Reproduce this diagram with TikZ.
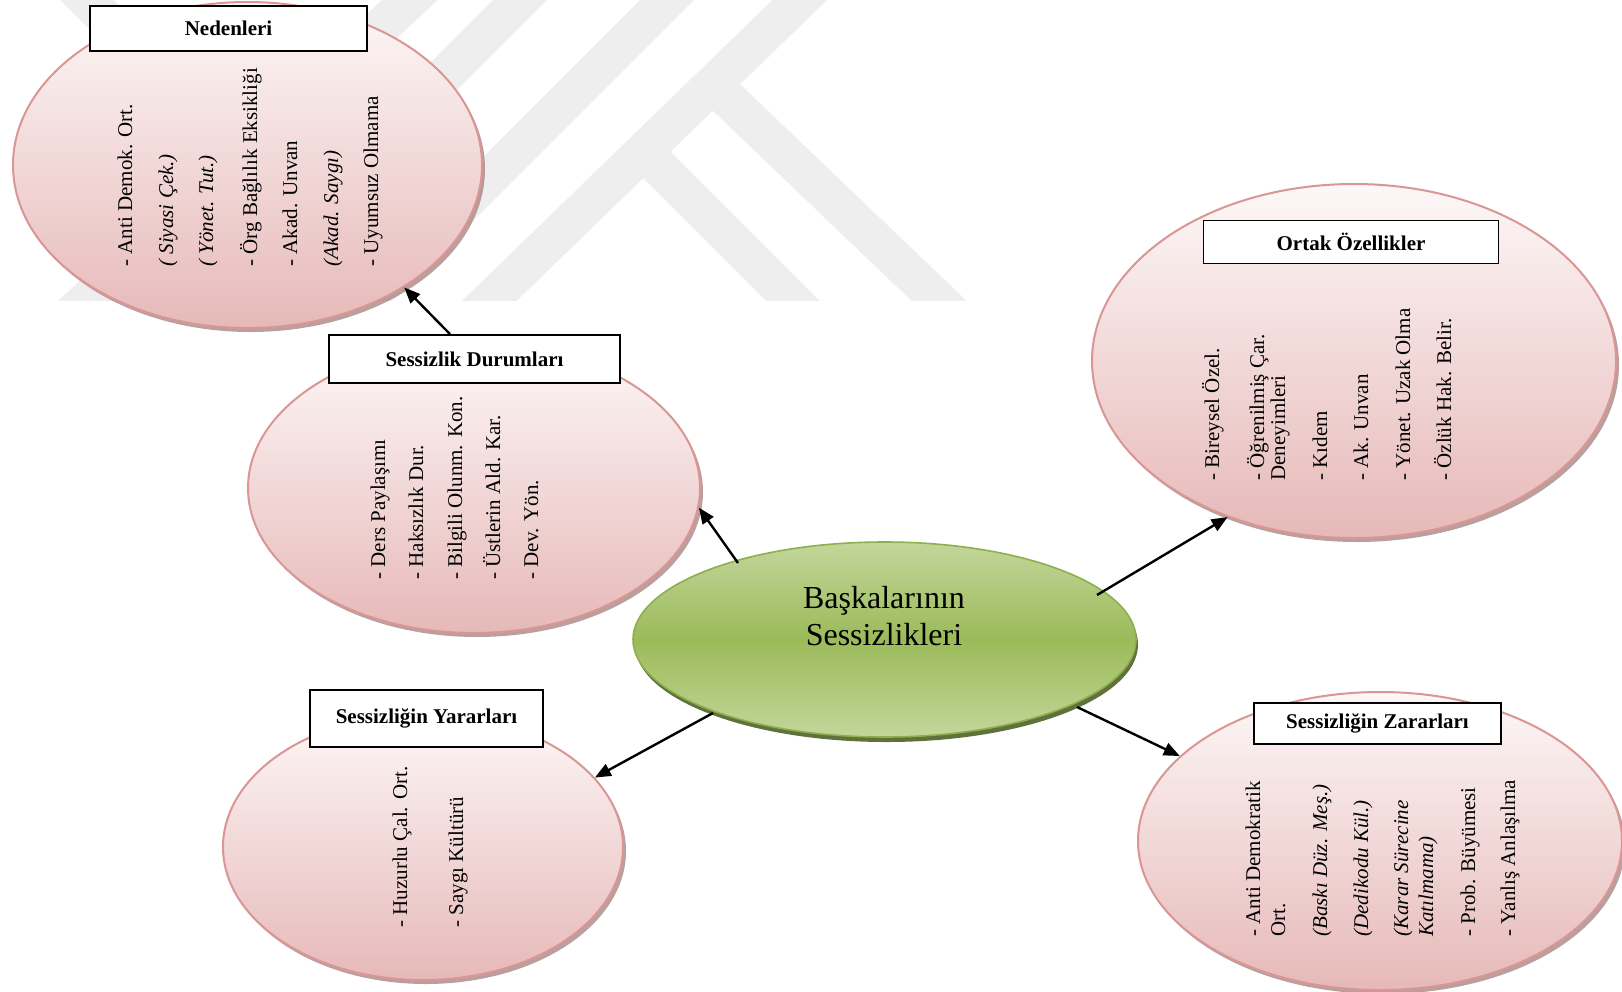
\documentclass[tikz,border=0pt]{standalone}
\usepackage{fontspec}
\setmainfont{Liberation Serif}
\usetikzlibrary{arrows.meta,shapes.geometric,shadows,calc}
\definecolor{pinkborder}{HTML}{D99694}
\definecolor{pinktop}{HTML}{FDF7F7}
\definecolor{pinkbot}{HTML}{E6B9B8}
\definecolor{pinkshadow}{HTML}{A98787}
\definecolor{greenlight}{HTML}{C3D69B}
\definecolor{greenmid}{HTML}{9BBB59}
\definecolor{greenborder}{HTML}{8DB04C}
\definecolor{greenshadow}{HTML}{4F6228}
\definecolor{wm}{HTML}{EEEEEE}
\tikzset{
  col/.style={rotate=90, anchor=west, inner sep=0pt, text height=7.5pt, text depth=2.5pt, font=\fontsize{10.5}{12}\selectfont},
  icol/.style={col, font=\fontsize{10.5}{12}\selectfont\itshape},
  titlebox/.style={draw=black, line width=0.9pt, fill=white, font=\fontsize{10.5}{12}\selectfont\bfseries, inner sep=0pt},
  bubble/.style={ellipse, draw=pinkborder, line width=1pt, top color=pinktop, bottom color=pinkbot, inner sep=0pt,
    drop shadow={shadow xshift=1.5pt, shadow yshift=-2pt, fill=pinkshadow, opacity=0.8}},
  hub/.style={ellipse, draw=greenborder, line width=0.8pt, top color=greenlight, bottom color=greenlight, middle color=greenmid, inner sep=0pt,
    drop shadow={shadow xshift=1pt, shadow yshift=-2.5pt, fill=greenshadow, opacity=0.9}},
  arr/.style={-{Triangle[length=8pt,width=6.5pt]}, line width=1.2pt, draw=black},
  wmband/.style={draw=wm, line width=19pt}
}
\begin{document}
\begin{tikzpicture}[x=0.5pt,y=-0.5pt]
\useasboundingbox (0,0) rectangle (1622,991);
\fill[white] (0,0) rectangle (1622,991);
\clip (0,0) rectangle (1622,991);

% watermark
\begin{scope}
\clip (0,0) rectangle (1622,300);
\draw[wmband] (841,-40) -- (449,340);
\draw[wmband] (707,-40) -- (327,340);
\draw[wmband] (560,-40) -- (180,340);
\draw[wmband] (453,-40) -- (44,340);
\draw[wmband] (705,77) -- (980,340);
\draw[wmband] (640,148) -- (832,340);
\draw[wmband] (47,-40) -- (242,155);
\end{scope}

% ellipses
\node[bubble, minimum width=234.5pt, minimum height=163pt] (ned) at (247.5,165) {};
\node[bubble, minimum width=226pt, minimum height=145pt] (sd) at (474,488) {};
\node[bubble, minimum width=262pt, minimum height=177pt] (ort) at (1354,361) {};
\node[bubble, minimum width=200pt, minimum height=133pt] (yar) at (423,847) {};
\node[bubble, minimum width=242pt, minimum height=149pt] (zar) at (1380,841) {};
\node[hub, minimum width=251.5pt, minimum height=97.5pt] (hub) at (884.5,639.5) {};
\node[inner sep=0pt, align=center, font=\fontsize{16}{18.5}\selectfont] (hubtext) at (884,616) {Başkalarının\\Sessizlikleri};

% Nedenleri texts
\node[col]  (n1) at (127,267) {- Anti Demok. Ort.};
\node[icol] (n2) at (168,267) {( Siyasi Çek.)};
\node[icol] (n3) at (208,267) {( Yönet. Tut.)};
\node[col]  (n4) at (252,267) {- Örg Bağlılık Eksikliği};
\node[col]  (n5) at (292,267) {- Akad. Unvan};
\node[icol] (n6) at (333,267) {(Akad. Saygı)};
\node[col]  (n7) at (373,267) {- Uyumsuz Olmama};

% Sessizlik Durumlari texts
\node[col] (s1) at (380,580) {- Ders Paylaşımı};
\node[col] (s2) at (418,580) {- Haksızlık Dur.};
\node[col] (s3) at (457,580) {- Bilgili Olunm. Kon.};
\node[col] (s4) at (495,580) {- Üstlerin Ald. Kar.};
\node[col] (s5) at (533,580) {- Dev. Yön.};

% Ortak Ozellikler texts
\node[col] (o1) at (1214,481) {- Bireysel Özel.};
\node[col] (o2) at (1259,481) {- Öğrenilmiş Çar.};
\node[col] (o2b) at (1280,481) {Deneyimleri};
\node[col] (o3) at (1322,481) {- Kıdem};
\node[col] (o4) at (1363,481) {- Ak. Unvan};
\node[col] (o5) at (1405,481) {- Yönet. Uzak Olma};
\node[col] (o6) at (1446,481) {- Özlük Hak. Belir.};

% Yararlari texts
\node[col] (y1) at (402,928) {- Huzurlu Çal. Ort.};
\node[col] (y2) at (458,928) {- Saygı Kültürü};

% Zararlari texts
\node[col]  (z1) at (1255,937) {- Anti Demokratik};
\node[col]  (z1b) at (1280,937) {Ort.};
\node[icol] (z2) at (1322,937) {(Baskı Düz. Meş.)};
\node[icol] (z3) at (1363,937) {(Dedikodu Kül.)};
\node[icol] (z4) at (1403,937) {(Karar Sürecine};
\node[icol] (z4b) at (1428,937) {Katılmama)};
\node[col]  (z5) at (1470,937) {- Prob. Büyümesi};
\node[col]  (z6) at (1510,937) {- Yanlış Anlaşılma};

% title boxes
\node[titlebox, minimum width=138.5pt, minimum height=22.5pt] (nedbox) at (228.5,28.5) {Nedenleri};
\node[titlebox, minimum width=145.5pt, minimum height=24pt] (sdbox) at (474.5,359) {Sessizlik Durumları};
\node[titlebox, minimum width=147.5pt, minimum height=21.5pt] (ortbox) at (1351,242) {Ortak Özellikler};
\node[titlebox, minimum width=116.5pt, minimum height=28.5pt] (yarbox) at (426.5,718.5) {Sessizliğin Yararları};
\node[titlebox, minimum width=123.5pt, minimum height=20.5pt] (zarbox) at (1377.5,723.5) {Sessizliğin Zararları};

% arrows
\draw[arr] ([xshift=-12.25pt]sdbox.north) -- (ned.-38);
\draw[arr] ($(hub.center)+(-146.5,-76.5)$) -- (sd.-5.6);
\draw[arr] ($(hub.center)+(212.5,-44.5)$) -- (ort.231);
\draw[arr] ($(hub.center)+(-171.5,73.5)$) -- (yar.22.7);
\draw[arr] ($(hub.center)+(192.5,67.5)$) -- (zar.157.5);
\end{tikzpicture}
\end{document}
